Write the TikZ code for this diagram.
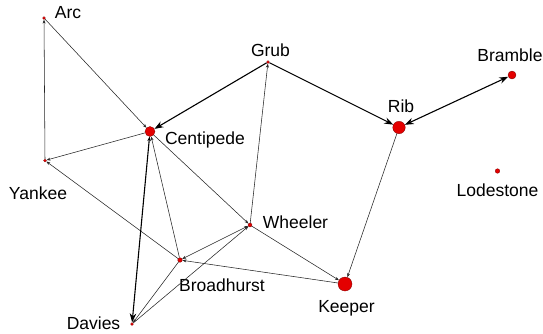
\documentclass[tikz,border=0pt]{standalone}
\usepackage{fontspec}
\setmainfont{Liberation Sans}
\usetikzlibrary{arrows.meta}
\definecolor{nodered}{RGB}{228,0,0}
\definecolor{rimred}{RGB}{120,0,0}
\begin{document}
\begin{tikzpicture}[x=1pt,y=-1pt,
  dot/.style={circle,fill=nodered,draw=rimred,line width=0.3pt,inner sep=0pt,minimum size=#1},
  lbl/.style={anchor=base,inner sep=0pt,font=\fontsize{17.5}{20}\selectfont,text=black},
  thin/.style={draw=black!85,line width=0.55pt,-{Stealth[length=4pt,width=3pt]}},
  thinboth/.style={draw=black!85,line width=0.55pt,{Stealth[length=4pt,width=3pt]}-{Stealth[length=4pt,width=3pt]}},
  thick/.style={draw=black,line width=1.1pt,-{Stealth[length=9pt,width=6.5pt]}},
  thickboth/.style={draw=black,line width=1.1pt,{Stealth[length=9pt,width=6.5pt]}-{Stealth[length=9pt,width=6.5pt]}}]
\useasboundingbox (0,0) rectangle (543,333);

% vertices
\node[dot=3pt]  (arc)   at (44,18) {};
\node[dot=3pt]  (grub)  at (268,62) {};
\node[dot=8pt]  (bram)  at (512,75) {};
\node[dot=12.5pt] (rib) at (399,127.5) {};
\node[dot=10pt] (cent)  at (150,131.5) {};
\node[dot=3pt]  (yank)  at (45,160.5) {};
\node[dot=4.6pt] (lode) at (497.5,171) {};
\node[dot=4pt]  (whee)  at (250,225) {};
\node[dot=4.6pt] (broad) at (180,260) {};
\node[dot=14pt] (keep)  at (345,284) {};
\node[dot=3pt]  (dav)   at (132,324) {};

% labels
\node[lbl] (larc)   at (68,18.5)   {Arc};
\node[lbl] (lgrub)  at (270.5,56.5) {Grub};
\node[lbl] (lbram)  at (510,61)   {Bramble};
\node[lbl] (lrib)   at (401,112.8) {Rib};
\node[lbl] (lcent)  at (205,144.3) {Centipede};
\node[lbl] (lyank)  at (38,199.3) {Yankee};
\node[lbl] (llode)  at (497.5,196) {Lodestone};
\node[lbl] (lwhee)  at (295.5,228.3) {Wheeler};
\node[lbl] (lbroad) at (222,291) {Broadhurst};
\node[lbl] (lkeep)  at (346.5,312.7) {Keeper};
\node[lbl] (ldav)   at (93.5,329.3) {Davies};

% ties
\draw[thin] (yank) -- (arc);
\draw[thin] (arc) -- (cent);
\draw[thin] (cent) -- (yank);
\draw[thin] (broad) -- (yank);
\draw[thin] (whee) -- (grub);
\draw[thin] (rib) -- (keep);
\draw[thin] (broad) -- (cent);
\draw[thin] (cent) -- (whee);
\draw[thinboth] (broad) -- (whee);
\draw[thin] (dav) -- (whee);
\draw[thin] (broad) -- (dav);
\draw[thin] (keep) -- (broad);
\draw[thin] (whee) -- (keep);
\draw[thick] (grub) -- (cent);
\draw[thick] (grub) -- (rib);
\draw[thickboth] (rib) -- (bram);
\draw[draw=black,line width=1.1pt,{Stealth[length=4.5pt,width=3.5pt]}-{Stealth[length=9pt,width=6.5pt]}] (cent) -- (dav);
\end{tikzpicture}
\end{document}
